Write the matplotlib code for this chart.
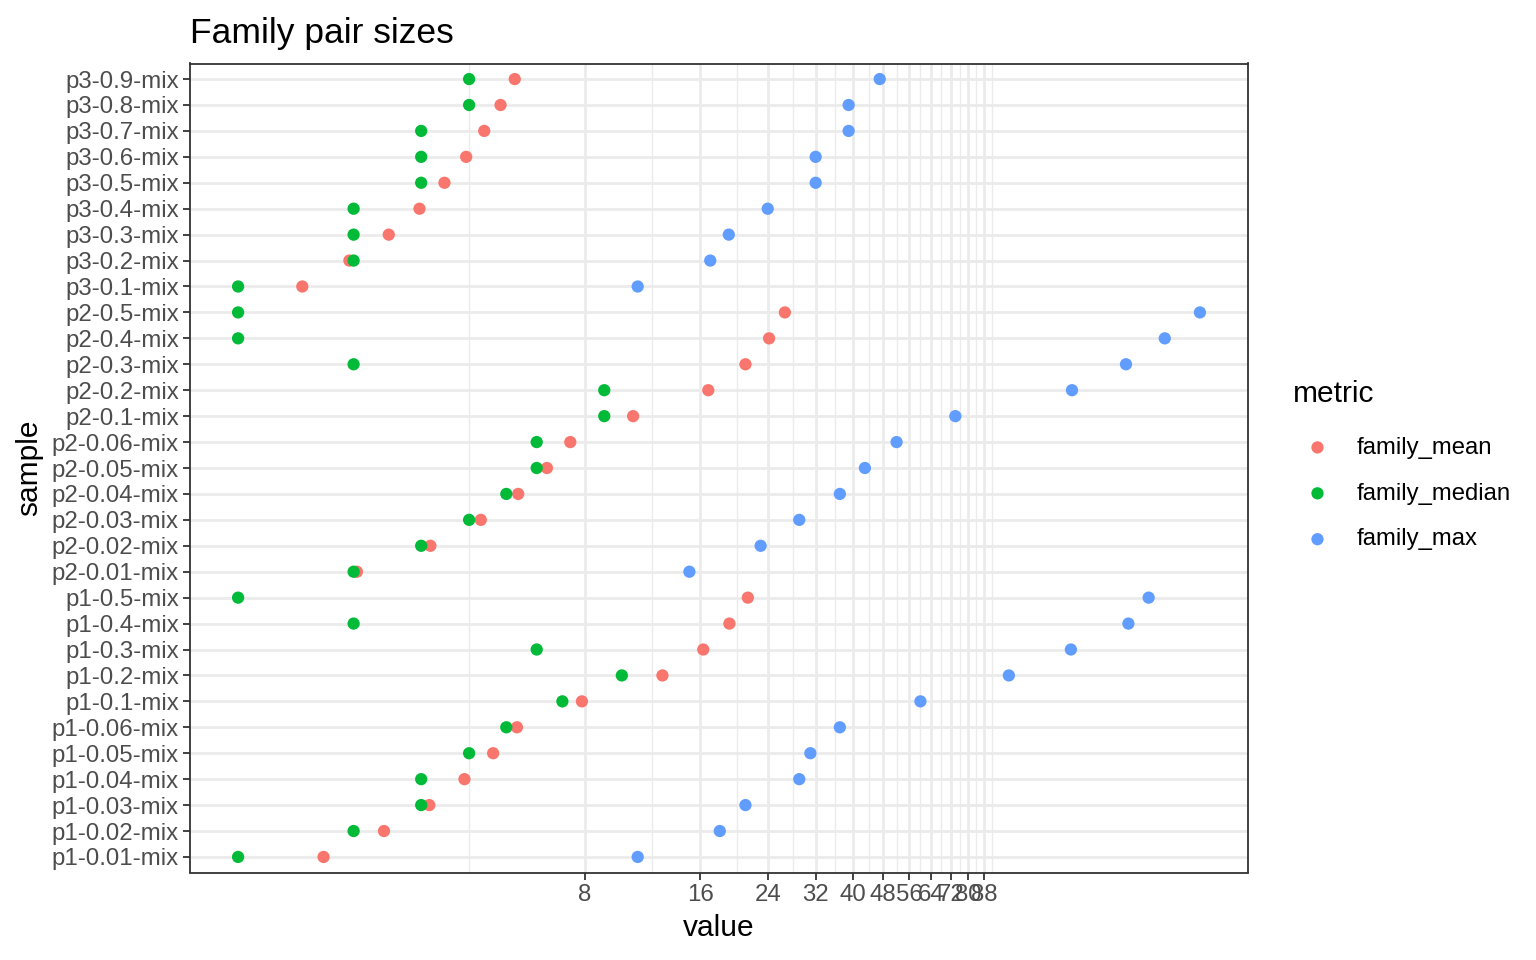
import numpy as np
import matplotlib
matplotlib.use("Agg")
import matplotlib.pyplot as plt
from matplotlib.ticker import FixedLocator, NullFormatter

plt.rcParams['font.family'] = ['Liberation Sans', 'DejaVu Sans']

# samples listed bottom to top (ggplot factor order)
samples = ["p1-0.01-mix", "p1-0.02-mix", "p1-0.03-mix", "p1-0.04-mix", "p1-0.05-mix",
           "p1-0.06-mix", "p1-0.1-mix", "p1-0.2-mix", "p1-0.3-mix", "p1-0.4-mix", "p1-0.5-mix",
           "p2-0.01-mix", "p2-0.02-mix", "p2-0.03-mix", "p2-0.04-mix", "p2-0.05-mix",
           "p2-0.06-mix", "p2-0.1-mix", "p2-0.2-mix", "p2-0.3-mix", "p2-0.4-mix", "p2-0.5-mix",
           "p3-0.1-mix", "p3-0.2-mix", "p3-0.3-mix", "p3-0.4-mix", "p3-0.5-mix",
           "p3-0.6-mix", "p3-0.7-mix", "p3-0.8-mix", "p3-0.9-mix"]

family_mean = [1.67, 2.40, 3.15, 3.89, 4.62, 5.33, 7.87, 12.76, 16.3, 19.07, 21.3,
               2.04, 3.17, 4.29, 5.37, 6.38, 7.34, 10.7, 16.8, 21.0, 24.2, 26.6,
               1.47, 1.95, 2.47, 2.97, 3.45, 3.93, 4.38, 4.83, 5.26]

family_median = [1, 2, 3, 3, 4, 5, 7, 10, 6, 2, 1,
                 2, 3, 4, 5, 6, 6, 9, 9, 2, 1, 1,
                 1, 2, 2, 2, 3, 3, 3, 4, 4]

family_max = [11, 18, 21, 29, 31, 37, 60, 102, 148, 209, 236,
              15, 23, 29, 37, 43, 52, 74, 149, 206, 260, 321,
              11, 17, 19, 24, 32, 32, 39, 39, 47]

metrics = ["family_mean", "family_median", "family_max"]
colors = ["#F8766D", "#00BA38", "#619CFF"]

x_breaks = [8, 16, 24, 32, 40, 48, 56, 64, 72, 80, 88]
x_minor = [4, 12, 20, 28, 36, 44, 52, 60, 68, 76, 84, 92]

fig = plt.figure(figsize=(15.36, 9.6), dpi=100)
ax = fig.add_axes([190 / 1536, 1 - 872.5 / 960, 1058 / 1536, 809 / 960])

ypos = np.arange(len(samples))
for name, vals, col in zip(metrics, [family_mean, family_median, family_max], colors):
    ax.scatter(vals, ypos, s=78, color=col, edgecolors='none', label=name, zorder=3)

ax.set_xscale('log', base=2)
allv = np.log2(np.concatenate([family_mean, family_median, family_max]))
lo, hi = allv.min(), allv.max()
pad = 0.05 * (hi - lo)
ax.set_xlim(2 ** (lo - pad), 2 ** (hi + pad))
ax.set_ylim(-0.6, len(samples) - 0.4)

ax.xaxis.set_major_locator(FixedLocator(x_breaks))
ax.xaxis.set_minor_locator(FixedLocator(x_minor))
ax.xaxis.set_minor_formatter(NullFormatter())
ax.set_xticklabels([str(b) for b in x_breaks])
ax.set_yticks(ypos)
ax.set_yticklabels(samples)

ax.grid(True, which='major', color='#EBEBEB', linewidth=2.0, zorder=0)
ax.grid(True, which='minor', axis='x', color='#EBEBEB', linewidth=1.0, zorder=0)
ax.set_axisbelow(True)

ax.tick_params(which='major', length=5, width=1.3, color='#333333',
               labelsize=17.3, labelcolor='#4D4D4D', pad=3)
ax.tick_params(which='minor', length=0)
for sp in ax.spines.values():
    sp.set_color('#333333')
    sp.set_linewidth(1.3)

ax.set_xlabel("value", fontsize=21.5, labelpad=6)
ax.set_ylabel("sample", fontsize=21.5, labelpad=6)
ax.set_title("Family pair sizes", loc='left', fontsize=25.5, pad=15)

leg = ax.legend(loc='center left', bbox_to_anchor=(1293 / 1536, 1 - 465 / 960),
                bbox_transform=fig.transFigure, frameon=False, title="metric",
                fontsize=17.2, title_fontsize=21.5, alignment='left',
                handlelength=2.05, handletextpad=0.62, labelspacing=1.0,
                borderpad=0, borderaxespad=0, scatterpoints=1)
leg._legend_box.sep = 21

fig.savefig("out.png", dpi=100)
